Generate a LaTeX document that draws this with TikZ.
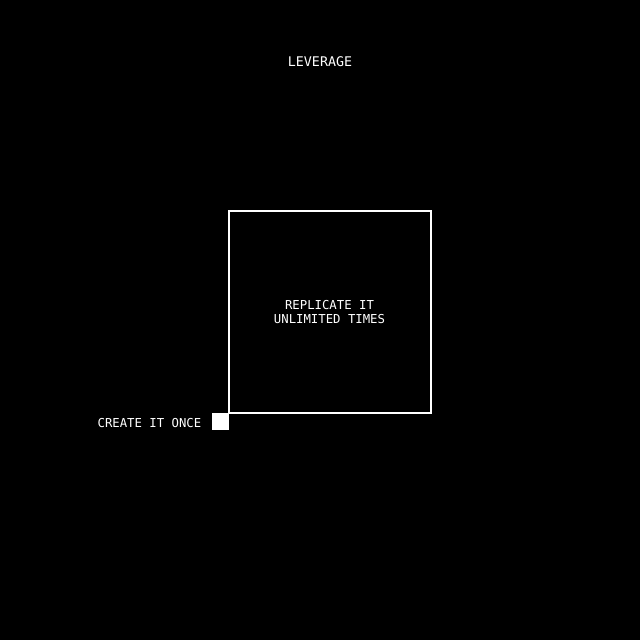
\documentclass[tikz,border=0pt]{standalone}
\usepackage{fontspec}
\newfontfamily\pixfont{DejaVu Sans Mono}
\begin{document}
\begin{tikzpicture}[x=1pt,y=-1pt,
  lbl/.style={text=white,font=\pixfont\fontsize{12.3}{14}\selectfont,inner sep=0pt,align=center},
  outline/.style={draw=white,line width=2pt},
  solid/.style={fill=white,draw=none}]
\fill[black] (0,0) rectangle (640,640);
\useasboundingbox (0,0) rectangle (640,640);
\node[lbl,font=\pixfont\fontsize{13.3}{15}\selectfont] (title) at (320,62) {LEVERAGE};
\draw[outline] (228.5,211) rectangle (430.5,413);
\node (big) at (329.5,312) {};
\node[lbl] (rep) at (329.5,312) {REPLICATE IT\\UNLIMITED TIMES};
\fill[solid] (212,413) rectangle (229,430);
\node[lbl,anchor=east] (once) at (201.5,423) {CREATE IT ONCE};
\end{tikzpicture}
\end{document}
